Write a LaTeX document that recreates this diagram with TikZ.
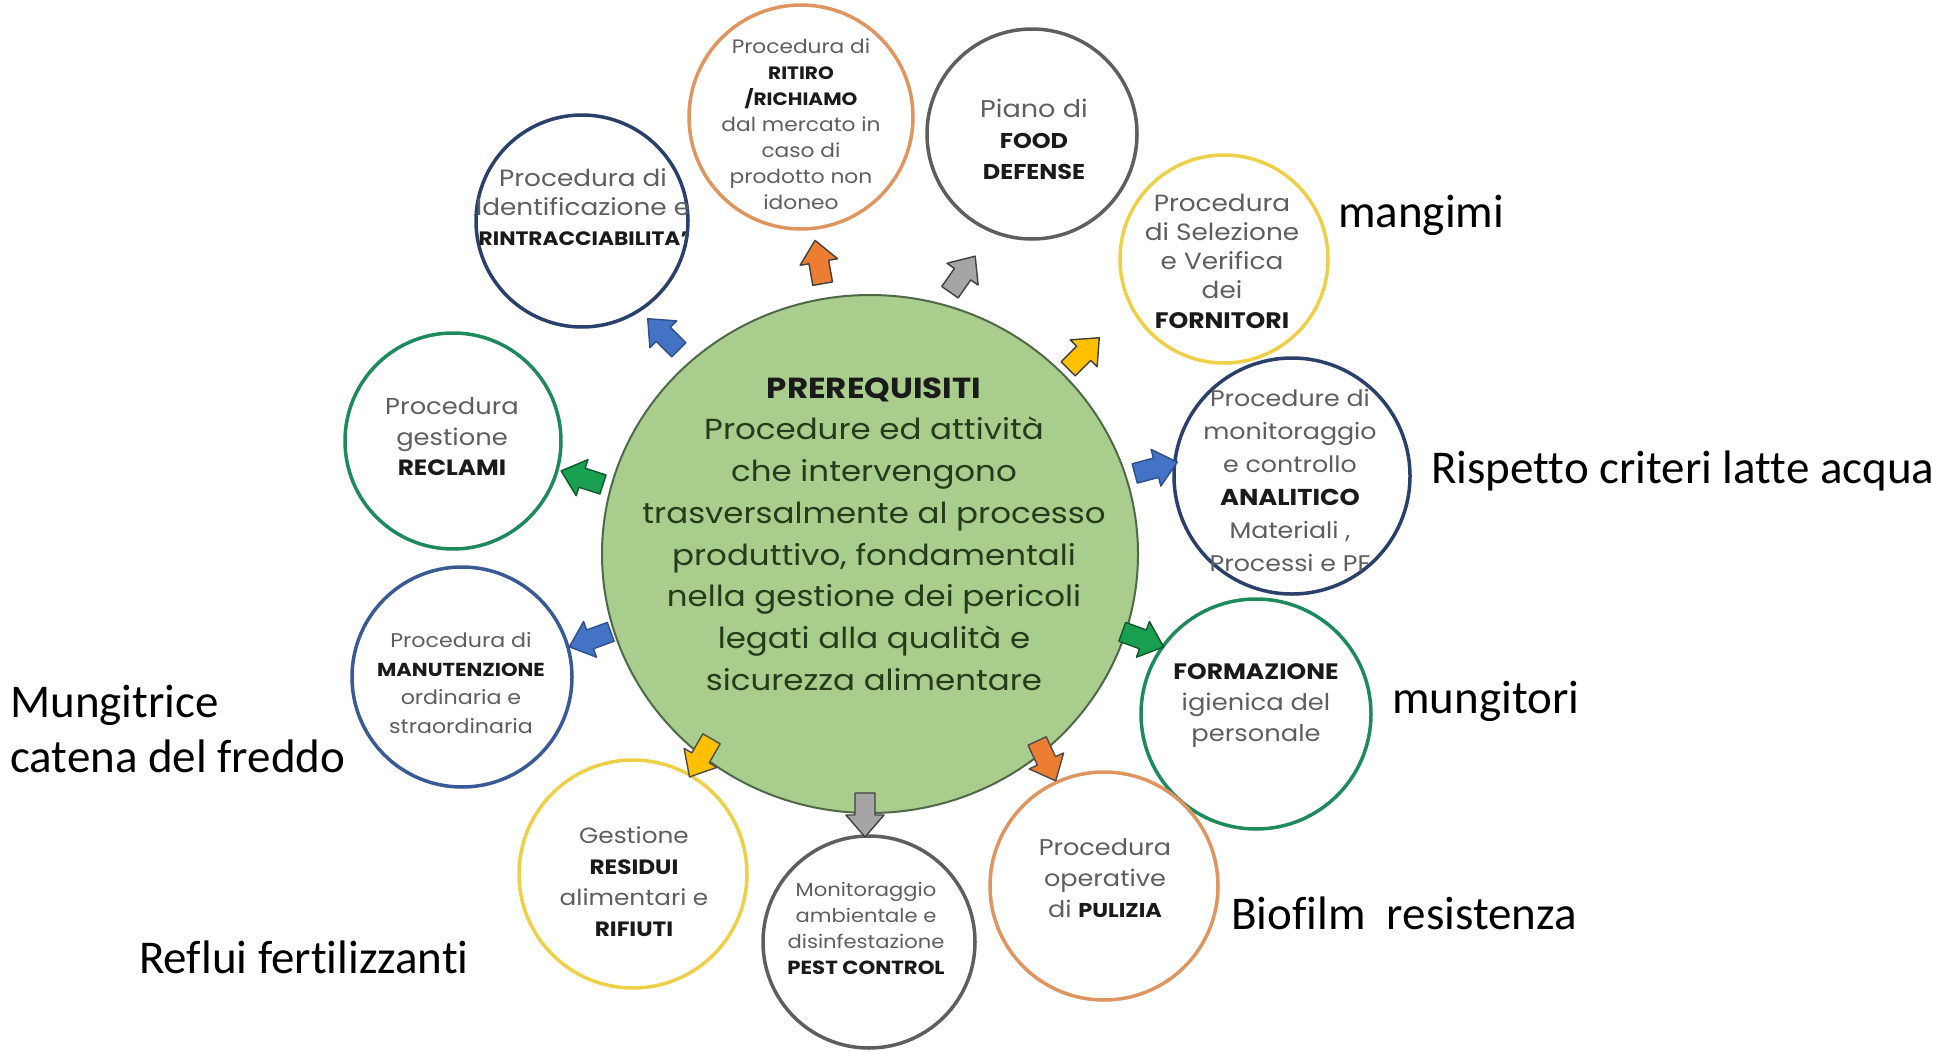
\documentclass[tikz,border=0pt]{standalone}
\usepackage{fontspec}
\setmainfont[FakeStretch=1.12, Ligatures=NoCommon]{Poppins}
\newfontfamily\sidefont[Ligatures=NoCommon]{Carlito}
\usetikzlibrary{shapes.geometric}

\definecolor{maingreen}{HTML}{A8CD8C}
\definecolor{mainborder}{HTML}{4F6848}
\definecolor{maintext}{HTML}{263B1C}
\definecolor{txtgray}{HTML}{5E5E5E}
\definecolor{boldtxt}{HTML}{1A1A1A}
\definecolor{navy}{HTML}{2B3F6B}
\definecolor{midnavy}{HTML}{3A5A95}
\definecolor{ringorange}{HTML}{DE9560}
\definecolor{ringgray}{HTML}{5E5E5E}
\definecolor{ringyellow}{HTML}{EDD048}
\definecolor{ringgreen}{HTML}{1E8A5C}
\definecolor{arblue}{HTML}{4472C4}
\definecolor{arorange}{HTML}{ED7D31}
\definecolor{argray}{HTML}{A5A5A5}
\definecolor{argold}{HTML}{FFC000}
\definecolor{argreen}{HTML}{18A050}

% bold keyword at its own size
\newcommand{\bw}[2]{{\fontsize{#1}{#1}\selectfont\bfseries\color{boldtxt}#2}}

\begin{document}
\begin{tikzpicture}[x=1pt,y=-1pt,
  ring/.style={circle, draw=#1, line width=3.5pt, fill=white, inner sep=0pt},
  ringtext/.style={align=center, text=txtgray, inner sep=0pt},
  sidetext/.style={anchor=base west, inner sep=0pt,
    font=\sidefont\fontsize{47}{56}\selectfont},
  pics/blockarrow/.style 2 args={code={
    \filldraw[fill=#1, draw=#2, line width=1.4pt, line join=round]
      (-21,-10) -- (1,-10) -- (1,-19) -- (23,0) -- (1,19) -- (1,10) -- (-21,10) -- cycle;}}
]
\useasboundingbox (0,0) rectangle (1946,1052);
\fill[white] (0,0) rectangle (1946,1052);

% central circle
\node[ellipse, fill=maingreen, draw=mainborder, line width=2pt, inner sep=0pt,
      minimum width=536, minimum height=518] (main) at (870,554) {};
\node[align=center, text=maintext, inner sep=0pt,
      font=\fontsize{29}{41.7}\selectfont] (maintxt) at (874,534)
  {\bw{29}{PREREQUISITI}\\
   Procedure ed attività\\
   che intervengono\\
   trasversalmente al processo\\
   produttivo, fondamentali\\
   nella gestione dei pericoli\\
   legati alla qualità e\\
   sicurezza alimentare};

% surrounding procedures
\node[ring=navy, minimum size=212] (c1) at (582,221) {};
\node[ringtext, font=\fontsize{23.5}{29.5}\selectfont] (t1) at (583,207)
  {Procedura di\\ Identificazione e\\ \bw{19.4}{RINTRACCIABILITA'}};

\node[ring=ringorange, minimum size=224] (c2) at (801,117) {};
\node[ringtext, font=\fontsize{19.4}{26}\selectfont] (t2) at (801,124)
  {Procedura di\\ \bw{17.9}{RITIRO}\\ \bw{17.9}{/RICHIAMO}\\ dal mercato in\\ caso di\\ prodotto non\\ idoneo};

\node[ring=ringgray, minimum size=210] (c3) at (1032,134) {};
\node[ringtext, font=\fontsize{24.2}{31}\selectfont] (t3) at (1034,139)
  {Piano di\\ \bw{21.4}{FOOD}\\ \bw{21.4}{DEFENSE}};

\node[ring=ringyellow, minimum size=208] (c4) at (1224,259) {};
\node[ringtext, font=\fontsize{23.5}{29.3}\selectfont] (t4) at (1222,261)
  {Procedura\\ di Selezione\\ e Verifica\\ dei\\ \bw{22.4}{FORNITORI}};

\node[ring=navy, minimum size=236] (c5) at (1292,476) {};
\node[ringtext, font=\fontsize{22.6}{33}\selectfont] (t5) at (1290,480)
  {Procedure di\\ monitoraggio\\ e controllo\\ \bw{23}{ANALITICO}\\ Materiali ,\\ Processi e PF};

\node[ring=ringgreen, minimum size=230] (c6) at (1256,714) {};
\node[ringtext, font=\fontsize{23}{31}\selectfont] (t6) at (1256,706)
  {\bw{22.3}{FORMAZIONE}\\ igienica del\\ personale};

\node[ring=ringorange, minimum size=228] (c7) at (1104,886) {};
\node[ringtext, font=\fontsize{22.8}{31}\selectfont] (t7) at (1105,878)
  {Procedura\\ operative\\ di \bw{20}{PULIZIA}};

\node[ring=ringgray, minimum size=212] (c8) at (869,942) {};
\node[ringtext, font=\fontsize{18.8}{26}\selectfont] (t8) at (866,928)
  {Monitoraggio\\ ambientale e\\ disinfestazione\\ \bw{19}{PEST CONTROL}};

\node[ring=ringyellow, minimum size=228] (c9) at (633,874) {};
\node[ringtext, font=\fontsize{22.1}{31}\selectfont] (t9) at (634,882)
  {Gestione\\ \bw{20.7}{RESIDUI}\\ alimentari e\\ \bw{20.7}{RIFIUTI}};

\node[ring=midnavy, minimum size=220] (c10) at (462,677) {};
\node[ringtext, font=\fontsize{19.8}{28.5}\selectfont] (t10) at (461,683)
  {Procedura di\\ \bw{18.8}{MANUTENZIONE}\\ ordinaria e\\ straordinaria};

\node[ring=ringgreen, minimum size=216] (c11) at (453,441) {};
\node[ringtext, font=\fontsize{23}{30.5}\selectfont] (t11) at (452,437)
  {Procedura\\ gestione\\ \bw{22.1}{RECLAMI}};

% block arrows from the centre towards each procedure
\pic[rotate=135]  at (664,335)  {blockarrow={arblue}{arblue!70!black}};
\pic[rotate=100]  at (819,263)  {blockarrow={arorange}{black!75}};
\pic[rotate=55]   at (962,275)  {blockarrow={argray}{black!75}};
\pic[rotate=45]   at (1083,354) {blockarrow={argold}{black!75}};
\pic[rotate=15]   at (1155,468) {blockarrow={arblue}{arblue!70!black}};
\pic[rotate=-20]  at (1142,639) {blockarrow={argreen}{argreen!55!black}};
\pic[rotate=-65]  at (1046,760) {blockarrow={arorange}{black!70}};
\pic[rotate=-90]  at (865,814)  {blockarrow={argray}{black!75}};
\pic[rotate=-120] at (701,757)  {blockarrow={argold}{black!70}};
\pic[rotate=200]  at (591,639)  {blockarrow={arblue}{arblue!70!black}};
\pic[rotate=162]  at (583,478)  {blockarrow={argreen}{argreen!55!black}};

% notes beside the diagram
\node[sidetext] (n1) at (1338,227) {mangimi};
\node[sidetext] (n2) at (1431,483) {Rispetto criteri latte acqua};
\node[sidetext] (n3) at (1392,713) {mungitori};
\node[sidetext] (n4) at (1231,929) {Biofilm\ \ resistenza};
\node[sidetext] (n5) at (139,973)  {Reflui fertilizzanti};
\node[sidetext] (n6) at (10,717)   {Mungitrice};
\node[sidetext] (n7) at (10,772)   {catena del freddo};
\end{tikzpicture}
\end{document}
